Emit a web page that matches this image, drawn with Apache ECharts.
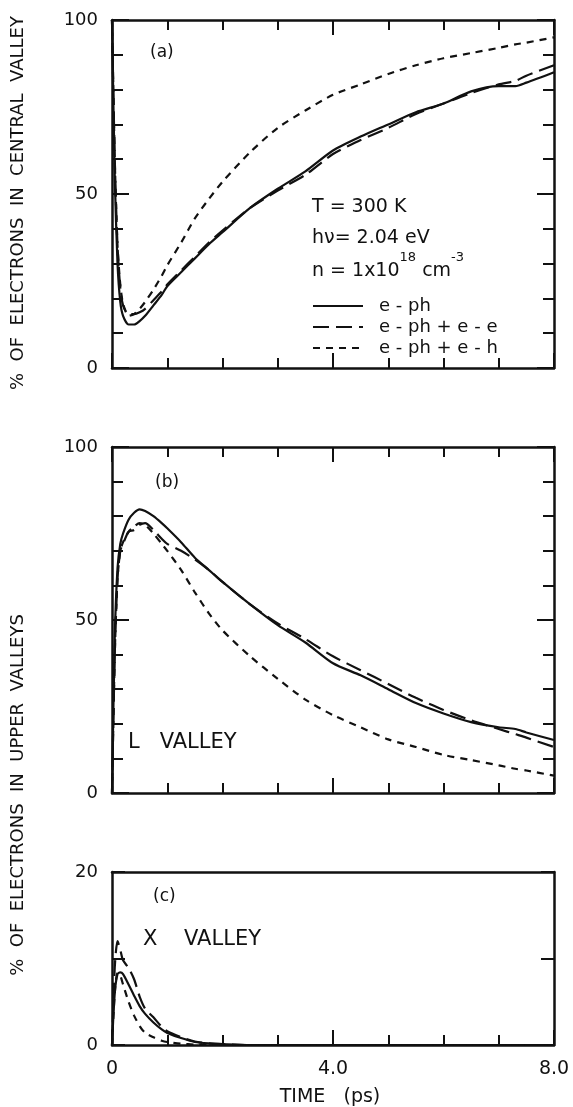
<!DOCTYPE html>
<html><head><meta charset="utf-8">
<script src="https://cdn.jsdelivr.net/npm/echarts@6/dist/echarts.min.js"></script>
<style>html,body{margin:0;padding:0;background:#fff}#c{width:573px;height:1107px}</style>
</head><body><div id="c"></div>
<script>
// time grid (ps)
const T = [0, 0.05, 0.1, 0.15, 0.2, 0.3, 0.4, 0.5, 0.6, 0.75, 0.9, 1.0, 1.25, 1.5, 1.75, 2.0, 2.5, 3.0, 3.5, 4.0, 4.5, 5.0, 5.5, 6.0, 6.5, 7.0, 7.3, 7.5, 8.0];
// (a) central valley
const centralPh   = [100, 55, 30, 19, 15, 12.5, 12.5, 13.5, 15, 18, 21, 23.5, 27.5, 31.5, 35.5, 39, 46, 51.5, 56.5, 62.5, 66.5, 70, 73.5, 76, 79.5, 81, 81, 82, 85];
const centralPhEe = [100, 60, 35, 23, 18, 15.5, 15.5, 16, 17, 19.5, 22, 24, 28, 32, 36, 39.5, 46, 51, 55.5, 61.5, 65.5, 69, 73, 76, 79, 81.5, 82.5, 84, 87];
const centralPhEh = [100, 60, 35, 24, 18.5, 15, 15.5, 17, 19, 22.5, 26.5, 29.5, 36, 43, 48.5, 53.5, 62, 69, 74, 78.5, 81.5, 84.5, 87, 89, 90.5, 92, 93, 93.5, 95];
// (b) L valley
const lPh   = [0, 45, 65, 72, 75, 79, 81, 82, 81.5, 80, 78, 76.5, 72.5, 68, 64.5, 61, 54.5, 48.5, 43.5, 37.5, 34, 30, 26, 23, 20.5, 19, 18.5, 17.5, 15.3];
const lPhEe = [0, 40, 62, 70, 72, 75.5, 76, 77.5, 78, 76, 73.5, 72, 70, 67.5, 64.5, 61, 54.5, 49, 44.5, 39.5, 35.5, 31.5, 27.5, 24, 21, 18.5, 17, 16, 13.3];
const lPhEh = [0, 40, 62, 70, 72.5, 75.5, 77, 78, 77.5, 75, 72, 70, 64.5, 58, 52, 47, 39.5, 33, 27, 22.5, 19, 15.5, 13.3, 11, 9.5, 8, 7, 6.5, 5];
// (c) X valley
const xPh   = [0, 6, 8.2, 8.4, 8.2, 7, 5.7, 4.5, 3.6, 2.6, 1.8, 1.4, 0.8, 0.35, 0.18, 0.1, 0, 0, 0, 0, 0, 0, 0, 0, 0, 0, 0, 0, 0];
const xPhEe = [0, 9, 12, 11, 9.8, 8.9, 7.6, 5.6, 4.2, 3.2, 2.1, 1.6, 0.9, 0.4, 0.2, 0.1, 0, 0, 0, 0, 0, 0, 0, 0, 0, 0, 0, 0, 0];
const xPhEh = [0, 6, 8.3, 8, 7, 5, 3.4, 2.2, 1.4, 0.9, 0.5, 0.35, 0.15, 0.05, 0, 0, 0, 0, 0, 0, 0, 0, 0, 0, 0, 0, 0, 0, 0];
const names = ['e - ph', 'e - ph + e - e', 'e - ph + e - h'];
const xLabels = {0: '0', 4: '4.0', 8: '8.0'};

const FONT = 'DejaVu Sans';
const INK = '#111';
const chart = echarts.init(document.getElementById('c'));

const grids = [
  {left: 112, right: 19, top: 20, height: 348},
  {left: 112, right: 19, top: 447, height: 346},
  {left: 112, right: 19, top: 872, height: 173}
];
const yCfg = [
  {max: 100, interval: 50, minor: 5},
  {max: 100, interval: 50, minor: 5},
  {max: 20, interval: 10, minor: 0}
];

const xAxes = [], yAxes = [];
grids.forEach((g, i) => {
  ['bottom', 'top'].forEach(pos => {
    const showTicks = !(i === 2 && pos === 'top');
    xAxes.push({
      type: 'value', gridIndex: i, position: pos, min: 0, max: 8, interval: 4,
      axisLine: {show: true, onZero: false, lineStyle: {color: INK, width: 2.5}},
      axisTick: {show: showTicks, inside: true, length: 15, lineStyle: {color: INK, width: 2}},
      minorTick: {show: showTicks, splitNumber: 4, length: 10, lineStyle: {color: INK, width: 2}},
      splitLine: {show: false},
      axisLabel: {show: i === 2 && pos === 'bottom', margin: 15, fontFamily: FONT, fontSize: 19, color: INK,
        formatter: v => xLabels[v] !== undefined ? xLabels[v] : ''}
    });
  });
  ['left', 'right'].forEach(pos => {
    const c = yCfg[i];
    yAxes.push({
      type: 'value', gridIndex: i, position: pos, min: 0, max: c.max, interval: c.interval,
      axisLine: {show: true, onZero: false, lineStyle: {color: INK, width: 2.5}},
      axisTick: {show: true, inside: true, length: i === 2 ? 13 : 17, lineStyle: {color: INK, width: 2}},
      minorTick: {show: c.minor > 0, splitNumber: c.minor || 5, length: 11, lineStyle: {color: INK, width: 2}},
      splitLine: {show: false},
      axisLabel: {show: pos === 'left', margin: 14, fontFamily: FONT, fontSize: 18, color: INK,
        formatter: v => (i === 2 && v === 10) ? '' : String(v)}
    });
  });
});

const dashTypes = ['solid', [16, 7], [7, 6]];
const panelData = [
  [centralPh, centralPhEe, centralPhEh],
  [lPh, lPhEe, lPhEh],
  [xPh, xPhEe, xPhEh]
];
const series = [];
panelData.forEach((arrs, p) => {
  arrs.forEach((arr, k) => {
    series.push({
      name: names[k], type: 'line', xAxisIndex: p * 2, yAxisIndex: p * 2,
      data: T.map((t, j) => [t, arr[j]]),
      showSymbol: false, symbol: 'none', smooth: 0.25,
      itemStyle: {color: INK},
      lineStyle: {color: INK, width: 2.2, type: dashTypes[k]},
      emphasis: {disabled: true}
    });
  });
});

function txt(x, y, text, size, extra) {
  return Object.assign({type: 'text', x: x, y: y, style: {text: text, fill: INK, font: size + 'px "' + FONT + '"', textVerticalAlign: 'middle'}}, extra || {});
}

chart.setOption({
  animation: false,
  grid: grids,
  xAxis: xAxes,
  yAxis: yAxes,
  series: series,
  legend: {
    data: names, orient: 'vertical', left: 312, top: 297, padding: 0,
    itemWidth: 50, itemHeight: 14, itemGap: 3, selectedMode: false,
    itemStyle: {opacity: 0},
    textStyle: {fontFamily: FONT, fontSize: 18, color: INK, padding: [0, 0, 0, 11], lineHeight: 17}
  },
  graphic: [
    {type: 'text', x: 18, y: 203, rotation: Math.PI / 2,
      style: {text: '%  OF  ELECTRONS  IN  CENTRAL  VALLEY', fill: INK, font: '18px "' + FONT + '"', textAlign: 'center', textVerticalAlign: 'middle'}},
    {type: 'text', x: 18, y: 795, rotation: Math.PI / 2,
      style: {text: '%  OF  ELECTRONS  IN  UPPER  VALLEYS', fill: INK, font: '18px "' + FONT + '"', textAlign: 'center', textVerticalAlign: 'middle'}},
    txt(150, 53, '(a)', 17),
    txt(155, 483, '(b)', 17),
    txt(153, 897, '(c)', 17),
    txt(128, 743, 'L   VALLEY', 21),
    txt(143, 940, 'X    VALLEY', 21),
    txt(312, 207, 'T = 300 K', 19),
    txt(312, 238, 'h\u03bd= 2.04 eV', 19),
    {type: 'text', x: 312, y: 266, style: {
      text: '{b|n = 1x10}{s|18}{b| cm}{s|-3}', fill: INK, textVerticalAlign: 'middle',
      rich: {
        b: {fontFamily: FONT, fontSize: 19, lineHeight: 30, verticalAlign: 'bottom', fill: INK},
        s: {fontFamily: FONT, fontSize: 13, lineHeight: 13, verticalAlign: 'top', fill: INK}
      }
    }},
    {type: 'text', x: 330, y: 1097, style: {text: 'TIME   (ps)', fill: INK, font: '19px "' + FONT + '"', textAlign: 'center', textVerticalAlign: 'middle'}}
  ]
});
</script></body></html>
